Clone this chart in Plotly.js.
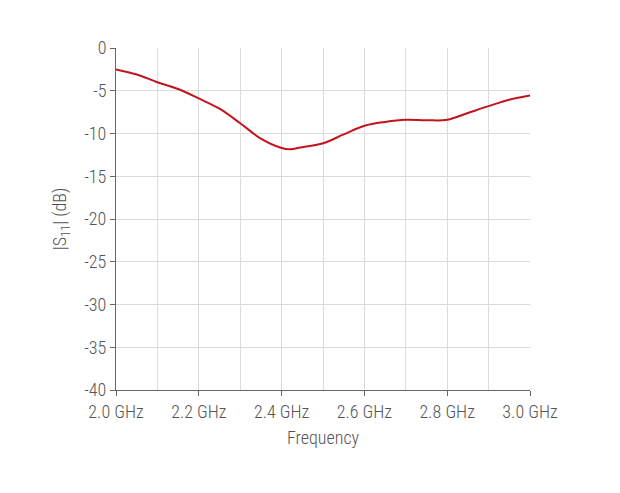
<!DOCTYPE html>
<html>
<head>
<meta charset="utf-8">
<script src="https://cdn.plot.ly/plotly-3.0.1.min.js"></script>
<style>html,body{margin:0;padding:0;background:#fff;}#chart{width:620px;height:493px;}</style>
</head>
<body>
<div id="chart"></div>
<script>
const freq = [2.0, 2.05, 2.1, 2.15, 2.2, 2.25, 2.3, 2.35, 2.4, 2.42, 2.45, 2.5, 2.55, 2.6, 2.65, 2.7, 2.75, 2.8, 2.85, 2.9, 2.95, 3.0];
const s11 = [-2.5, -3.1, -4.0, -4.8, -5.9, -7.1, -8.8, -10.6, -11.7, -11.85, -11.6, -11.15, -10.1, -9.1, -8.65, -8.4, -8.45, -8.4, -7.6, -6.8, -6.05, -5.55];
const xTickVals = [2.0, 2.2, 2.4, 2.6, 2.8, 3.0];
const xTickText = ["2.0 GHz", "2.2 GHz", "2.4 GHz", "2.6 GHz", "2.8 GHz", "3.0 GHz"];
const yTickVals = [0, -5, -10, -15, -20, -25, -30, -35, -40];
const yTickText = ["0", "-5", "-10", "-15", "-20", "-25", "-30", "-35", "-40"];

const fontFam = '"Roboto Condensed", "Roboto", sans-serif';
Plotly.newPlot('chart', [{
  x: freq, y: s11, type: 'scatter', mode: 'lines',
  line: {color: '#c2141c', width: 2, shape: 'spline', smoothing: 1},
  hoverinfo: 'skip'
}], {
  width: 620, height: 493,
  margin: {l: 116, r: 90, t: 48, b: 103},
  paper_bgcolor: '#fff', plot_bgcolor: '#fff',
  showlegend: false,
  font: {family: fontFam, color: '#555', size: 18, weight: 300},
  xaxis: {
    range: [2.0, 3.0], tickvals: xTickVals, ticktext: xTickText,
    showgrid: true, gridcolor: '#dcdcdc', gridwidth: 1,
    minor: {dtick: 0.1, tick0: 2.0, showgrid: true, gridcolor: '#dcdcdc', gridwidth: 1, ticks: ''},
    showline: true, linecolor: '#666', linewidth: 1,
    ticks: 'outside', ticklen: 5, tickcolor: '#666', tickwidth: 1,
    zeroline: false, fixedrange: true,
    tickfont: {family: fontFam, size: 18, color: '#555', weight: 300},
    title: {text: 'Frequency', font: {family: fontFam, size: 18, color: '#555', weight: 300}, standoff: 10}
  },
  yaxis: {
    range: [-40, 0], tickvals: yTickVals, ticktext: yTickText,
    showgrid: true, gridcolor: '#dcdcdc', gridwidth: 1,
    showline: true, linecolor: '#666', linewidth: 1,
    ticks: 'outside', ticklen: 5, tickcolor: '#666', tickwidth: 1,
    zeroline: false, fixedrange: true,
    tickfont: {family: fontFam, size: 18, color: '#555', weight: 300},
    title: {text: '|S<sub>11</sub>| (dB)', font: {family: fontFam, size: 18, color: '#555', weight: 300}, standoff: 12}
  }
}, {displayModeBar: false, staticPlot: true});
</script>
</body>
</html>
